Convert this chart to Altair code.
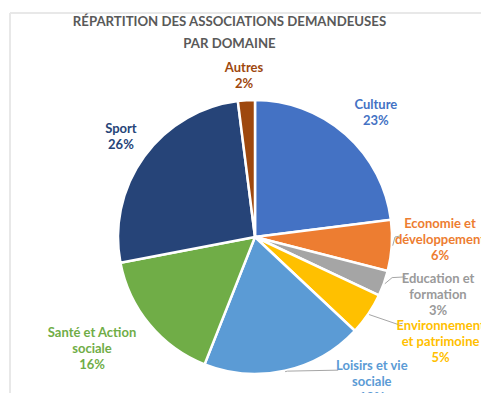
import math
import pandas as pd
import altair as alt

# ---- data ----
categories = ["Culture", "Economie et\ndéveloppement", "Education et\nformation",
              "Environnement\net patrimoine", "Loisirs et vie\nsociale",
              "Santé et Action\nsociale", "Sport", "Autres"]
values = [23, 6, 3, 5, 19, 16, 26, 2]
title_lines = ["RÉPARTITION DES ASSOCIATIONS DEMANDEUSES", "PAR DOMAINE"]

# ---- style ----
colors = ["#4472C4", "#ED7D31", "#A5A5A5", "#FFC000", "#5B9BD5", "#70AD47", "#264478", "#9E480E"]
label_colors = ["#4472C4", "#ED7D31", "#9A9A9A", "#FFC000", "#5B9BD5", "#70AD47", "#264478", "#9E480E"]
CX, CY, R = 247, 229, 137
LH = 16
label_dangle = [2.9, -2.6, -2.2, -4.8, -26.3, 5.0, 0.6, -0.3]
label_r = [173, 185, 192, 213, 186, 198, 167, 161]
# leader: index -> (elbow angle offset, elbow radius, end angle offset, end radius)
leaders = {1: (-3.6, 140, -4.0, 145),
           2: (-3.3, 143, -5.0, 156),
           3: (-2.7, 167, -3.9, 171),
           4: (-1.0, 138, -19.4, 157)}
FONT = "Lato"

names = [c.replace("\n", " ") for c in categories]
total = sum(values)


def polar(angle_deg, r):
    a = math.radians(angle_deg)
    return CX + r * math.sin(a), CY - r * math.cos(a)


rows, lab_rows, lead_rows = [], [], []
cum = 0
for i, (c, n, v) in enumerate(zip(categories, names, values)):
    mid = (cum + v / 2) / total * 360
    cum += v
    rows.append({"idx": i, "name": n, "value": v})
    text = f"{c}\n{v}%"
    nlines = text.count("\n") + 1
    lx, ly = polar(mid + label_dangle[i], label_r[i])
    lab_rows.append({"name": n, "label": text, "lx": lx,
                     "ly": ly - (nlines - 1) * LH / 2, "tcolor": label_colors[i]})
    if i in leaders:
        ea, er, da, dr = leaders[i]
        pts = [polar(mid, R + 1), polar(mid + ea, er), polar(mid + da, dr)]
        for k, (x, y) in enumerate(pts):
            lead_rows.append({"lead": n, "ord": k, "x": x, "y": y})

df = pd.DataFrame(rows)
lab = pd.DataFrame(lab_rows)
lead = pd.DataFrame(lead_rows)

arcs = alt.Chart(df).mark_arc(radius=R, stroke="white", strokeWidth=2.5).encode(
    theta=alt.Theta("value:Q", stack=True),
    order=alt.Order("idx:Q"),
    color=alt.Color("name:N", scale=alt.Scale(domain=names, range=colors), legend=None),
    x=alt.value(CX),
    y=alt.value(CY),
)

leader_lines = alt.Chart(lead).mark_line(color="#A6A6A6", strokeWidth=1).encode(
    x=alt.X("x:Q", scale=None),
    y=alt.Y("y:Q", scale=None),
    detail="lead:N",
    order=alt.Order("ord:Q"),
)

labels = alt.Chart(lab).mark_text(font=FONT, fontSize=13, fontWeight="bold",
                                  lineBreak="\n", lineHeight=LH,
                                  align="center", baseline="middle").encode(
    x=alt.X("lx:Q", scale=None),
    y=alt.Y("ly:Q", scale=None),
    text="label:N",
    color=alt.Color("tcolor:N", scale=None),
)

title = alt.Chart(pd.DataFrame({"t": ["\n".join(title_lines)]})).mark_text(
    font=FONT, fontSize=13.2, fontWeight="bold", color="#595959",
    lineBreak="\n", lineHeight=22, align="center", baseline="middle").encode(
    text="t:N", x=alt.value(221.5), y=alt.value(14))

frame_top = alt.Chart(pd.DataFrame({"a": [0]})).mark_rule(color="#E8E8E8", strokeWidth=2).encode(
    x=alt.value(2), x2=alt.value(473), y=alt.value(5))
frame_left = alt.Chart(pd.DataFrame({"a": [0]})).mark_rule(color="#E8E8E8", strokeWidth=2).encode(
    x=alt.value(2), y=alt.value(5), y2=alt.value(385))

chart = alt.layer(frame_top, frame_left, arcs, leader_lines, labels, title).properties(
    width=473, height=385, autosize="none", padding=0
).configure_view(stroke=None)

chart.save("out.html", embed_options={"renderer": "svg", "actions": False})
